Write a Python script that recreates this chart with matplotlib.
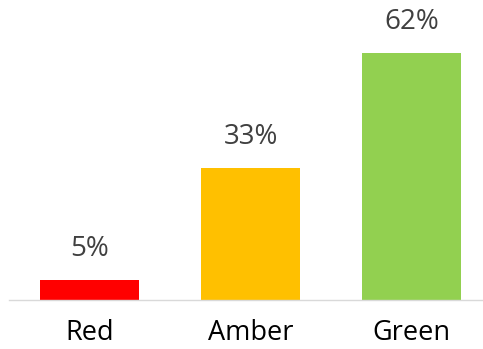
import matplotlib.pyplot as plt

categories = ["Red", "Amber", "Green"]
values = [5, 33, 62]
colors = ["#FF0000", "#FFC000", "#92D050"]

plt.rcParams['font.family'] = ['Open Sans', 'DejaVu Sans']

fig = plt.figure(figsize=(4.83, 3.49), dpi=100)
ax = fig.add_axes([9 / 483, 49.5 / 349, 474 / 483, 299.5 / 349])

x = range(len(categories))
bars = ax.bar(x, values, width=0.61, color=colors)
for b, v in zip(bars, values):
    ax.text(b.get_x() + b.get_width() / 2, v + 4.3, f"{v}%", ha="center", va="bottom",
            fontsize=20, color="#404040")

ax.set_xlim(-0.5, 2.444)
ax.set_ylim(0, 75.4)
ax.set_xticks(list(x))
ax.set_xticklabels(categories, fontsize=19.5, color="#000000")
ax.tick_params(axis="x", length=0, pad=14)
ax.set_yticks([])
for s in ["top", "right", "left"]:
    ax.spines[s].set_visible(False)
ax.spines["bottom"].set_color("#D9D9D9")
ax.spines["bottom"].set_linewidth(1)

fig.savefig("out.png", dpi=100)
